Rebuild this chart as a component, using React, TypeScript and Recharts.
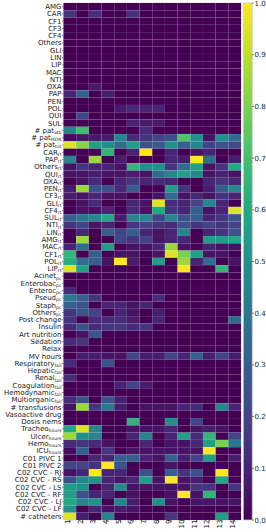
import { ScatterChart, Scatter, XAxis, YAxis, BarChart, Bar, ReferenceArea } from 'recharts'

const COLS = [1, 2, 3, 4, 5, 6, 7, 8, 9, 10, 11, 12, 13, 14]

const ATB_LABELS = ['AMG', 'CAR', 'CF1', 'CF3', 'CF4', 'Others', 'GLI', 'LIN', 'LIP', 'MAC', 'NTI', 'OXA', 'PAP', 'PEN', 'POL', 'QUI', 'SUL']
const ATB_VALUES = [
  [0, 0, 0, 0, 0, 0, 0, 0, 0, 0, 0, 0, 0, 0],
  [0.15, 0, 0.13, 0, 0, 0.13, 0, 0, 0, 0, 0, 0, 0, 0],
  [0, 0, 0, 0, 0, 0, 0, 0, 0, 0, 0, 0, 0, 0],
  [0, 0, 0, 0, 0, 0, 0, 0, 0, 0, 0, 0, 0, 0],
  [0, 0, 0, 0, 0, 0, 0, 0, 0, 0, 0, 0, 0, 0],
  [0, 0, 0, 0, 0, 0, 0, 0, 0, 0, 0, 0, 0, 0],
  [0, 0, 0, 0, 0, 0, 0, 0, 0, 0, 0, 0, 0, 0],
  [0, 0, 0, 0, 0, 0, 0, 0, 0, 0, 0, 0, 0, 0],
  [0, 0, 0, 0, 0, 0, 0, 0, 0, 0, 0, 0, 0, 0],
  [0, 0, 0, 0, 0, 0, 0, 0, 0, 0, 0, 0, 0, 0],
  [0, 0, 0, 0, 0, 0, 0, 0, 0, 0, 0, 0, 0, 0],
  [0, 0, 0.07, 0, 0, 0, 0, 0, 0, 0, 0, 0, 0, 0],
  [0.1, 0.3, 0, 0.08, 0, 0, 0, 0, 0, 0, 0, 0, 0, 0],
  [0, 0, 0, 0, 0, 0, 0, 0, 0, 0, 0, 0, 0, 0],
  [0, 0, 0, 0, 0.07, 0.12, 0.1, 0.1, 0, 0, 0, 0, 0, 0],
  [0, 0.2, 0, 0, 0, 0, 0, 0, 0, 0, 0, 0, 0, 0],
  [0, 0, 0, 0, 0, 0.1, 0.07, 0.07, 0, 0, 0, 0, 0, 0],
]

const PAT_LABELS = ['# pat_atb', '# pat_MDR', '# pat_tot']
const PAT_VALUES = [
  [0.45, 0.68, 0, 0, 0, 0, 0.12, 0, 0, 0, 0, 0, 0, 0],
  [0.03, 0.05, 0.07, 0.08, 0.45, 0.12, 0.15, 0.2, 0.25, 0.72, 0.5, 0.05, 0.5, 0.35],
  [0.95, 0.82, 0.55, 0.5, 0.35, 0.55, 0.25, 0.28, 0.5, 0.3, 0.45, 0.2, 0.25, 0.22],
]

const RT_LABELS = ['CAR_rt', 'PAP_rt', 'Others_rt', 'QUI_rt', 'OXA_rt', 'PEN_rt', 'CF3_rt', 'GLI_rt', 'CF4_rt', 'SUL_rt', 'NTI_rt', 'LIN_rt', 'AMG_rt', 'MAC_rt', 'CF1_rt', 'POL_rt', 'LIP_rt']
const RT_VALUES = [
  [0, 0, 0, 0.65, 0, 0.1, 1.0, 0, 0.1, 0, 0.05, 0.1, 0, 0],
  [0.45, 0, 0.85, 0, 0.08, 0, 0, 0, 0.1, 0.08, 1.0, 0.35, 0, 0.08],
  [0.05, 0.15, 0.1, 0.1, 0.05, 0.65, 0.5, 0.5, 0.15, 0.35, 0.55, 0.05, 0.15, 0.6],
  [0.05, 0.05, 0.08, 0.05, 0.05, 0.08, 0.05, 0.35, 0.45, 0.55, 0.45, 0.05, 0.1, 0.05],
  [0, 0.05, 0.12, 0, 0.1, 0.15, 0.1, 0.12, 0.1, 0, 0, 0.1, 0.15, 0.1],
  [0.08, 0.85, 0.25, 0.25, 0.12, 0.3, 0, 0, 0.55, 0.15, 0, 0.08, 0.3, 0.45],
  [0.08, 0.05, 0.1, 0.05, 0.05, 0, 0, 0.05, 0.35, 0.05, 0.1, 0.05, 0.15, 0.1],
  [0, 0.05, 0.12, 0, 0, 0.1, 0.05, 0.95, 0.12, 0.1, 0.2, 0.45, 0.1, 0],
  [0, 0.05, 0.05, 0.1, 0, 0.12, 0.05, 0.6, 0.15, 0.1, 0.3, 0.05, 0.1, 0.95],
  [0.3, 0.4, 0.45, 0.6, 0.08, 0.45, 0.45, 0.2, 0.45, 0.25, 0.3, 0.1, 0.15, 0.25],
  [0.15, 0.2, 0.05, 0.1, 0, 0.15, 0.2, 0.15, 0.12, 0.25, 0.15, 0.2, 0.15, 0.2],
  [0, 0.1, 0, 0.3, 0.2, 0.3, 0.1, 0.05, 0.1, 0.45, 0, 0.1, 0.15, 0.25],
  [0, 0.85, 0, 0, 0.2, 0.15, 0.2, 0.05, 0.1, 0.1, 0, 0.55, 0.55, 0.6],
  [0.1, 0.35, 0, 0.55, 0, 0.05, 0.05, 0.1, 0.85, 0.05, 0, 0.1, 0.05, 0.05],
  [0.65, 0, 0.3, 0, 0.05, 0.05, 0, 0.05, 0.95, 0.8, 0.55, 0.05, 0.05, 0],
  [0.62, 0.35, 0.3, 0.05, 1.0, 0.08, 0, 0.55, 0, 0.85, 0.1, 0.35, 0, 0.05],
  [0.95, 0.58, 0, 0, 0, 0, 0, 0, 0, 1.0, 0, 0, 0.65, 0],
]

const PC_LABELS = ['Acinet_pc', 'Enterobac_pc', 'Enteroc_pc', 'Pseud_pc', 'Staph_pc', 'Others_pc']
const PC_VALUES = [
  [0, 0, 0, 0, 0, 0, 0, 0, 0, 0, 0, 0, 0, 0],
  [0, 0, 0, 0, 0, 0, 0, 0, 0, 0, 0, 0, 0, 0],
  [0.12, 0, 0, 0, 0, 0, 0, 0, 0, 0, 0, 0, 0, 0],
  [0.4, 0.3, 0.15, 0, 0, 0, 0, 0.12, 0, 0, 0, 0, 0, 0],
  [0.3, 0.25, 0, 0.1, 0.1, 0.05, 0.1, 0, 0, 0, 0, 0, 0, 0],
  [0.15, 0.25, 0.2, 0, 0.1, 0.05, 0, 0.08, 0, 0, 0, 0, 0, 0],
]

const CARE_LABELS = ['Post change', 'Insulin', 'Art nutrition', 'Sedation', 'Relax', 'MV hours']
const CARE_VALUES = [
  [0.15, 0, 0.12, 0.12, 0.12, 0.08, 0, 0.1, 0, 0, 0, 0, 0, 0.35],
  [0.12, 0.25, 0.12, 0.15, 0.15, 0.12, 0.15, 0, 0, 0, 0, 0, 0, 0],
  [0, 0.05, 0.25, 0, 0, 0, 0, 0, 0, 0, 0, 0, 0, 0],
  [0.12, 0.15, 0, 0, 0, 0, 0, 0, 0, 0, 0, 0, 0, 0],
  [0, 0, 0, 0, 0, 0, 0, 0, 0, 0, 0, 0, 0, 0],
  [0, 0.08, 0.08, 0.05, 0.05, 0.2, 0.08, 0.08, 0.2, 0.1, 0.3, 0.08, 0.2, 0.08],
]

const FAIL_LABELS = ['Respiratory_fail', 'Hepatic_fail', 'Renal_fail', 'Coagulation_fail', 'Hemodynamic_fail', 'Multiorganic_fail', '# transfusions', 'Vasoactive drug', 'Dosis nems']
const FAIL_VALUES = [
  [0.12, 0, 0, 0.25, 0, 0, 0, 0, 0, 0, 0, 0, 0, 0],
  [0, 0, 0, 0, 0, 0, 0, 0, 0, 0, 0, 0, 0, 0],
  [0.12, 0, 0, 0, 0, 0, 0, 0, 0, 0, 0, 0, 0, 0],
  [0, 0, 0, 0, 0.1, 0.2, 0.08, 0, 0, 0, 0, 0, 0, 0],
  [0, 0, 0, 0, 0, 0, 0, 0, 0, 0, 0, 0, 0, 0],
  [0.12, 0.25, 0, 0.25, 0.08, 0, 0, 0, 0, 0, 0, 0, 0, 0],
  [0.05, 0.85, 0.15, 0.4, 0.08, 0, 0.05, 0.05, 0.05, 0.1, 0.12, 0, 0.45, 0.1],
  [0, 0, 0, 0, 0, 0, 0, 0, 0, 0, 0, 0, 0, 0],
  [0, 0, 0, 0, 0, 0.65, 0, 0, 0.5, 0, 0.2, 0, 0, 0],
]

const HOURS_LABELS = ['Tracheo_hours', 'Ulcer_hours', 'Hemo_hours', 'ICU_hours']
const HOURS_VALUES = [
  [0.6, 0.95, 0.45, 0, 0, 0.05, 0.05, 0.05, 0.1, 0, 0.05, 0.08, 0.05, 0],
  [0.85, 0.5, 0.45, 0, 0, 0.1, 0.45, 0, 0.1, 0.55, 0.12, 0.65, 0, 0.2],
  [0.12, 0.15, 0.12, 0.05, 0, 0, 0.1, 0, 0.05, 0.05, 0.1, 0.55, 0.8, 0.4],
  [0.03, 0.3, 0, 0.15, 0, 0.05, 0.05, 0.05, 0.05, 0.05, 0.05, 1.0, 0, 0],
]

const CATH_LABELS = ['C01 PIVC 1', 'C01 PIVC 2', 'C02 CVC - RJ', 'C02 CVC - RS', 'C02 CVC - LS', 'C02 CVC - RF', 'C02 CVC - LJ', 'C02 CVC - LF', '# catheters']
const CATH_VALUES = [
  [0, 0, 0.1, 0.1, 0.3, 0.3, 0.1, 0.05, 0.3, 0.08, 0.2, 0.55, 0, 0.08],
  [0.2, 0.2, 0.15, 1.0, 0.25, 0, 0, 0, 0.05, 0, 0, 0, 0, 0],
  [0.05, 0.1, 1.0, 0.1, 0.1, 0, 0.25, 0, 0.3, 0.15, 0.25, 0, 1.0, 0],
  [0.25, 0.45, 0.5, 0.1, 0.05, 0.1, 0.55, 0.05, 1.0, 0.05, 0.08, 0, 0.6, 0],
  [0.55, 0.5, 0, 0.1, 0.45, 0.05, 0.05, 0.05, 0.05, 0.05, 0.15, 0.15, 0, 0.15],
  [0.55, 0.25, 0.1, 0.1, 0, 0.05, 0, 0, 0.05, 1.0, 0.05, 0.65, 0, 0],
  [0.6, 0.45, 0.5, 0, 0.45, 0.08, 0, 0.5, 0.05, 0, 0.05, 0.05, 0.05, 0.05],
  [0.5, 0, 0.1, 0.05, 0.08, 0.05, 0, 0, 0, 0, 0, 0, 0, 0],
  [0.95, 0.08, 0, 0.45, 0, 0, 0, 0, 0.15, 0, 0, 0, 0.55, 0],
]

const CBAR_TICKS = [0, 0.1, 0.2, 0.3, 0.4, 0.5, 0.6, 0.7, 0.8, 0.9, 1.0]
const CBAR_DATA = [{ name: 'scale', top: 1 }]

const ROW_LABELS = [...ATB_LABELS, ...PAT_LABELS, ...RT_LABELS, ...PC_LABELS, ...CARE_LABELS, ...FAIL_LABELS, ...HOURS_LABELS, ...CATH_LABELS]
const ROW_VALUES = [...ATB_VALUES, ...PAT_VALUES, ...RT_VALUES, ...PC_VALUES, ...CARE_VALUES, ...FAIL_VALUES, ...HOURS_VALUES, ...CATH_VALUES]
const ROW_IDS = ROW_LABELS.map((_, i) => i + 1)

const cells = ROW_VALUES.flatMap((row, r) => row.map((v, c) => ({ x: COLS[c], y: r + 1, v })))

const VIRIDIS = ['#440154', '#482475', '#414487', '#355f8d', '#2a788e', '#21918c', '#22a884', '#44bf70', '#7ad151', '#bddf26', '#fde725']

function hexToRgb(h: string) {
  return [1, 3, 5].map(i => parseInt(h.slice(i, i + 2), 16))
}

function viridis(v: number) {
  const t = Math.max(0, Math.min(1, v)) * 10
  const i = Math.min(9, Math.floor(t))
  const f = t - i
  const a = hexToRgb(VIRIDIS[i])
  const b = hexToRgb(VIRIDIS[i + 1])
  const c = a.map((x, k) => Math.round(x + (b[k] - x) * f))
  return `rgb(${c[0]},${c[1]},${c[2]})`
}

const FONT = 'DejaVu Sans, sans-serif'
const W = 243
const H = 532
const MARGIN = { top: 3, right: 2, bottom: 2, left: 0 }
const Y_W = 63.5
const X_H = 10
const CELL_W = (W - MARGIN.left - MARGIN.right - Y_W) / COLS.length
const CELL_H = (H - MARGIN.top - MARGIN.bottom - X_H) / ROW_LABELS.length

// eslint-disable-next-line @typescript-eslint/no-explicit-any
const Cell = (props: any) => {
  const { cx, cy, payload } = props
  return (
    <rect
      x={cx - CELL_W / 2}
      y={cy - CELL_H / 2}
      width={CELL_W}
      height={CELL_H}
      fill={viridis(payload.v)}
      stroke="#ffffff"
      strokeOpacity={0.04}
      strokeWidth={0.6}
    />
  )
}

// eslint-disable-next-line @typescript-eslint/no-explicit-any
const RowTick = (props: any) => {
  const { x, y, payload } = props
  const label = ROW_LABELS[payload.value - 1] || ''
  const [main, sub] = label.split('_')
  return (
    <text x={x} y={y} dy={2.4} textAnchor="end" fontSize={7} fontFamily={FONT} fill="#222">
      <tspan>{main}</tspan>
      {sub && (
        <tspan fontSize={4.6} dy={1.1}>
          {sub}
        </tspan>
      )}
    </text>
  )
}

// eslint-disable-next-line @typescript-eslint/no-explicit-any
const ColTick = (props: any) => {
  const { x, y, payload } = props
  return (
    <text
      x={x}
      y={y}
      dx={2.5}
      textAnchor="end"
      fontSize={7}
      fontFamily={FONT}
      fill="#222"
      transform={`rotate(-90, ${x}, ${y})`}
    >
      {payload.value}
    </text>
  )
}

// eslint-disable-next-line @typescript-eslint/no-explicit-any
const CbarTick = (props: any) => {
  const { x, y, payload } = props
  return (
    <text x={x} y={y} dy={2.5} textAnchor="start" fontSize={7} fontFamily={FONT} fill="#222">
      {Number(payload.value).toFixed(1)}
    </text>
  )
}

export default function App() {
  return (
    <div style={{ position: 'absolute', left: 0, top: 0, width: 266, height: 532, background: '#fff' }}>
      <div style={{ position: 'absolute', left: 0, top: 0 }}>
        <ScatterChart width={W} height={H} margin={MARGIN}>
          <XAxis
            type="number"
            dataKey="x"
            domain={[0.5, 14.5]}
            ticks={COLS}
            interval={0}
            height={X_H}
            tick={<ColTick />}
            tickSize={2}
            tickMargin={0}
            axisLine={false}
            tickLine={{ stroke: '#333', strokeWidth: 0.6 }}
          />
          <YAxis
            type="number"
            dataKey="y"
            domain={[0.5, ROW_LABELS.length + 0.5]}
            reversed
            ticks={ROW_IDS}
            interval={0}
            width={Y_W}
            tick={<RowTick />}
            tickSize={1.5}
            tickMargin={0.5}
            axisLine={false}
            tickLine={{ stroke: '#333', strokeWidth: 0.6 }}
          />
          <Scatter data={cells} shape={<Cell />} isAnimationActive={false} />
          <ReferenceArea
            x1={0.5}
            x2={14.5}
            y1={0.5}
            y2={ROW_LABELS.length + 0.5}
            fill="none"
            stroke="#cccccc"
            strokeWidth={0.8}
            ifOverflow="visible"
          />
        </ScatterChart>
      </div>
      <div style={{ position: 'absolute', left: 243, top: 0 }}>
        <BarChart
          width={23}
          height={H}
          data={CBAR_DATA}
          margin={{ top: 3, right: 0, bottom: 12, left: 0.3 }}
          barCategoryGap={0}
        >
          <defs>
            <linearGradient id="viridisGrad" x1="0" y1="1" x2="0" y2="0">
              {VIRIDIS.map((c, i) => (
                <stop key={c} offset={`${i * 10}%`} stopColor={c} />
              ))}
            </linearGradient>
          </defs>
          <XAxis dataKey="name" hide />
          <YAxis
            type="number"
            orientation="right"
            domain={[0, 1]}
            ticks={CBAR_TICKS}
            interval={0}
            width={14}
            tick={<CbarTick />}
            tickSize={2}
            tickMargin={0.5}
            axisLine={false}
            tickLine={{ stroke: '#333', strokeWidth: 0.6 }}
          />
          <Bar
            dataKey="top"
            fill="url(#viridisGrad)"
            stroke="#cccccc"
            strokeWidth={0.8}
            isAnimationActive={false}
          />
        </BarChart>
      </div>
    </div>
  )
}
